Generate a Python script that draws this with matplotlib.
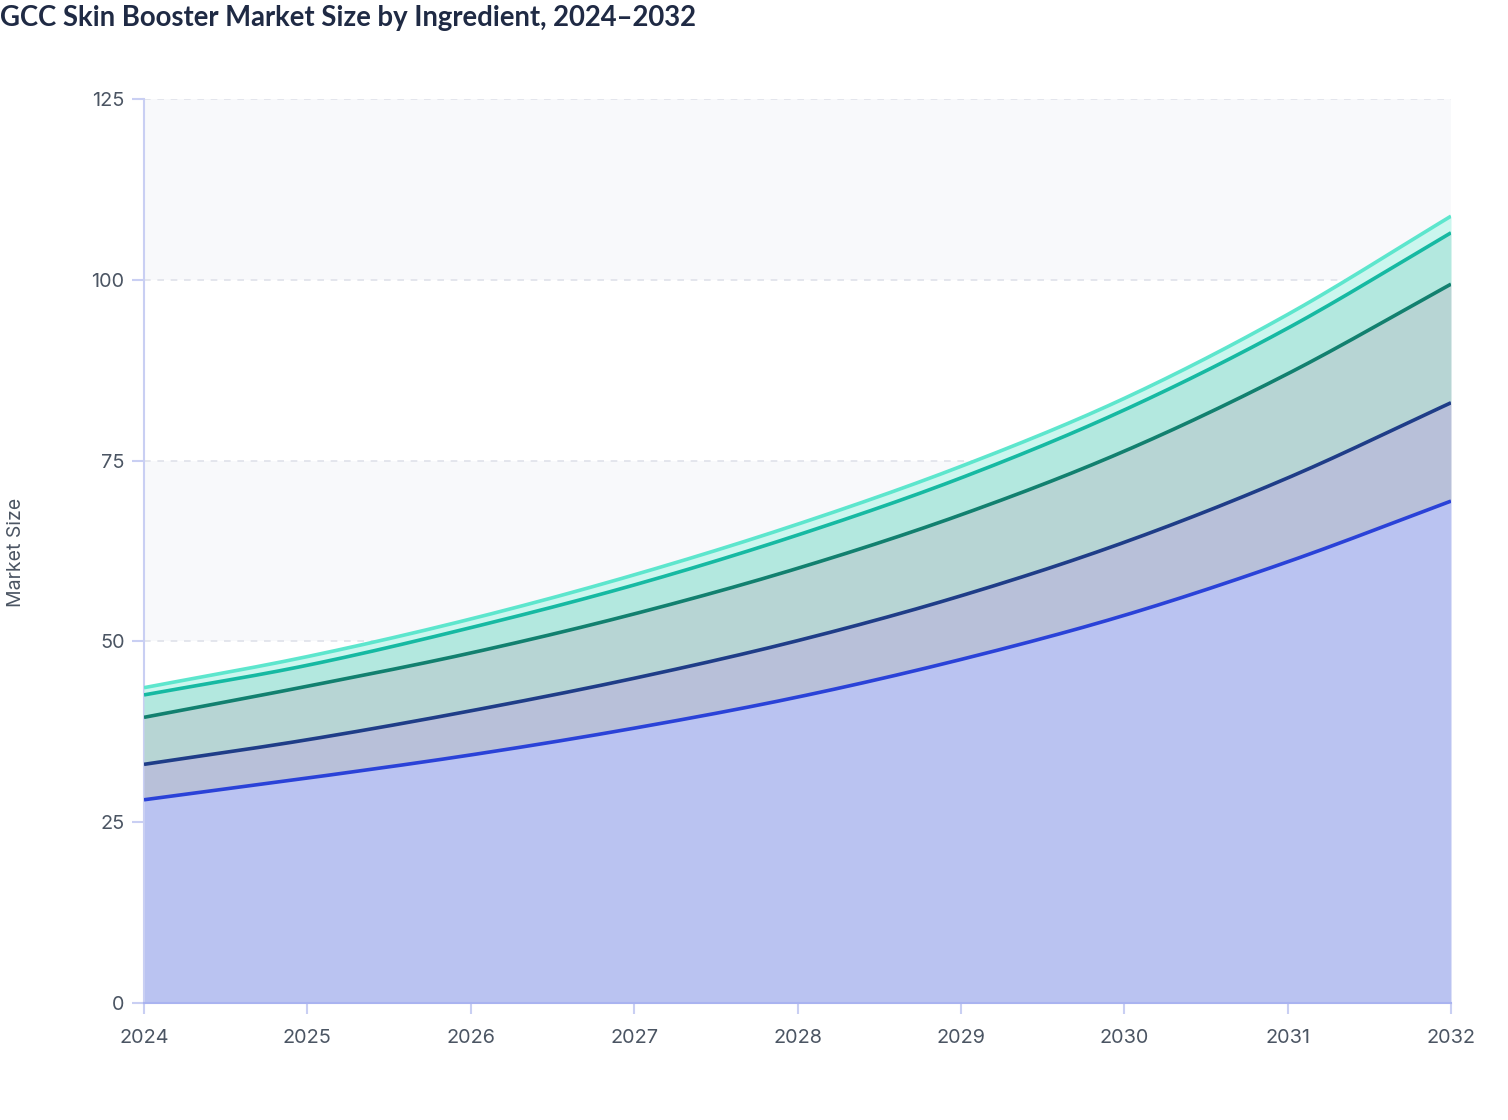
import numpy as np
import matplotlib
matplotlib.use("Agg")
import matplotlib.pyplot as plt

# data, one value per year for each ingredient
years = [2024, 2025, 2026, 2027, 2028, 2029, 2030, 2031, 2032]
series_names = ["Hyaluronic Acid", "Polynucleotides", "Peptides", "Vitamins", "Others"]
hyaluronic = [28.1, 31.1, 34.3, 38.0, 42.3, 47.5, 53.6, 61.0, 69.4]
polynucleotides = [4.9, 5.3, 6.1, 6.9, 7.8, 8.8, 10.1, 11.6, 13.6]
peptides = [6.5, 7.4, 8.0, 8.9, 10.0, 11.2, 12.6, 14.4, 16.4]
vitamins = [3.1, 2.9, 3.5, 4.0, 4.6, 5.1, 5.7, 6.3, 7.1]
others = [1.0, 1.2, 1.2, 1.4, 1.5, 1.6, 1.6, 1.9, 2.3]

line_colors = ["#2a42d8", "#1f3d88", "#12806f", "#16b9a2", "#5de6cd"]
fill_colors = ["#bac3f1", "#b8c0d9", "#b7d5d4", "#b3e8df", "#cbf6ee"]


def smooth(x, y, n=40):
    # cubic hermite between the yearly points, only used for drawing
    x = np.asarray(x, float)
    y = np.asarray(y, float)
    m = np.gradient(y, x)
    xs, ys = [], []
    for i in range(len(x) - 1):
        h = x[i + 1] - x[i]
        t = np.linspace(0, 1, n, endpoint=False)
        h00 = 2*t**3 - 3*t**2 + 1
        h10 = t**3 - 2*t**2 + t
        h01 = -2*t**3 + 3*t**2
        h11 = t**3 - t**2
        xs.append(x[i] + t*h)
        ys.append(h00*y[i] + h10*h*m[i] + h01*y[i + 1] + h11*h*m[i + 1])
    xs.append([x[-1]])
    ys.append([y[-1]])
    return np.concatenate(xs), np.concatenate(ys)


fig = plt.figure(figsize=(15.08, 11.2), dpi=100)
ax = fig.add_axes([144/1508, 1 - 1003/1120, (1451 - 144)/1508, (1003 - 99)/1120])

# alternating background bands + dashed grid
for lo in [0, 50, 100]:
    ax.axhspan(lo, lo + 25, color="#f8f9fb", zorder=0, lw=0)
for v in [25, 50, 75, 100, 125]:
    ax.axhline(v, color="#dfe2ea", lw=1.2, ls=(0, (4, 4)), zorder=1)

stack = np.cumsum([hyaluronic, polynucleotides, peptides, vitamins, others], axis=0)
curves = [smooth(years, stack[k]) for k in range(len(series_names))]
prev = None
for k, (xs, top) in enumerate(curves):
    bottom = np.zeros_like(top) if prev is None else prev
    ax.fill_between(xs, bottom, top, color=fill_colors[k], lw=0, zorder=2 + k)
    prev = top
for k, (xs, top) in enumerate(curves):
    ax.plot(xs, top, color=line_colors[k], lw=2.6, zorder=10 + k,
            solid_capstyle="butt", label=series_names[k])

ax.set_xlim(2024, 2032)
ax.set_ylim(0, 125)
ax.set_xticks(years)
ax.set_yticks([0, 25, 50, 75, 100, 125])
ax.tick_params(axis="both", colors="#c9cff3", labelcolor="#4b5563",
               labelsize=14.3, width=1.5)
ax.tick_params(axis="x", length=8, pad=11)
ax.tick_params(axis="y", length=9, pad=5)
for lab in ax.get_xticklabels() + ax.get_yticklabels():
    lab.set_family(["Inter", "DejaVu Sans"])
for s in ["top", "right"]:
    ax.spines[s].set_visible(False)
ax.spines["left"].set_color("#c9cff3")
ax.spines["bottom"].set_color("#a9b3f0")
ax.spines["left"].set_linewidth(1.5)
ax.spines["bottom"].set_linewidth(1.5)

fig.text(16/1508, 1 - 552/1120, "Market Size", rotation=90, ha="center", va="center",
         color="#4b5563", fontsize=14, family=["Inter", "DejaVu Sans"])
fig.text(0, 1 - 18/1120, "GCC Skin Booster Market Size by Ingredient, 2024\u20132032",
         ha="left", va="center", color="#1f2a44", fontsize=19.8, fontweight="bold",
         family="Lato")

fig.savefig("out.png", dpi=100)
